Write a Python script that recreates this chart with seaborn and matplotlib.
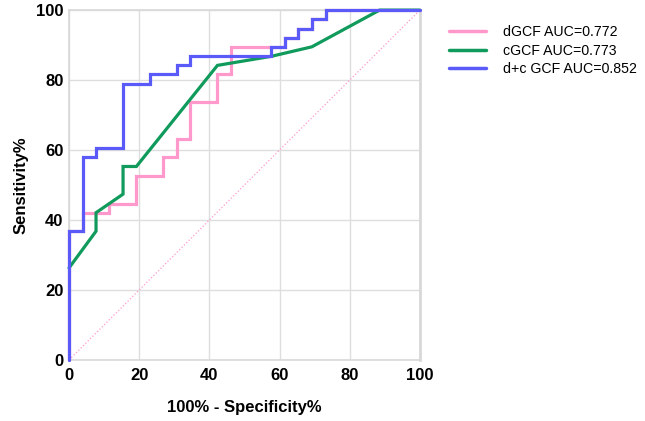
import numpy as np
import pandas as pd
import matplotlib
matplotlib.use('Agg')
import matplotlib.pyplot as plt
import seaborn as sns

# ROC points (100% - specificity, sensitivity)
d_fpr = [0, 0, 3.85, 3.85, 11.5, 11.5, 19.2, 19.2, 26.9, 26.9, 30.8, 30.8, 34.6, 34.6,
         42.3, 42.3, 46.2, 46.2, 57.7, 61.5, 61.5, 65.4, 65.4, 69.2, 69.2, 73.1, 73.1, 100]
d_tpr = [0, 36.8, 36.8, 42.1, 42.1, 44.7, 44.7, 52.6, 52.6, 57.9, 57.9, 63.2, 63.2, 73.7,
         73.7, 81.6, 81.6, 89.5, 89.5, 89.5, 92.1, 92.1, 94.7, 94.7, 97.4, 97.4, 100, 100]

c_fpr = [0, 7.7, 7.7, 15.4, 15.4, 19.2, 42.3, 57.7, 69.2, 88.5, 100]
c_tpr = [26.3, 36.8, 42.1, 47.4, 55.3, 55.3, 84.2, 86.8, 89.5, 100, 100]

dc_fpr = [0, 0, 3.85, 3.85, 7.7, 7.7, 15.4, 15.4, 23.1, 23.1, 30.8, 30.8, 34.6, 34.6,
          57.7, 57.7, 61.5, 61.5, 65.4, 65.4, 69.2, 69.2, 73.1, 73.1, 100]
dc_tpr = [0, 36.8, 36.8, 57.9, 57.9, 60.5, 60.5, 78.9, 78.9, 81.6, 81.6, 84.2, 84.2, 86.8,
          86.8, 89.5, 89.5, 92.1, 92.1, 94.7, 94.7, 97.4, 97.4, 100, 100]

labels = ['dGCF AUC=0.772', 'cGCF AUC=0.773', 'd+c GCF AUC=0.852']
colors = ['#ff99cc', '#109a5c', '#5a5af8']
ticks = [0, 20, 40, 60, 80, 100]

sns.set_style('white')
plt.rcParams['font.family'] = ['Liberation Sans', 'DejaVu Sans']
plt.rcParams['text.color'] = 'black'
plt.rcParams['axes.labelcolor'] = 'black'
plt.rcParams['xtick.color'] = 'black'
plt.rcParams['ytick.color'] = 'black'

fig = plt.figure(figsize=(6.45, 4.21), dpi=100)
ax = fig.add_axes([0.107, 0.145, 0.544, 0.831])

# chance line
sns.lineplot(x=[0, 100], y=[0, 100], ax=ax, color='#ff99cc', linestyle=':', linewidth=0.9)

curves = [(d_fpr, d_tpr), (c_fpr, c_tpr), (dc_fpr, dc_tpr)]
for (fx, fy), lab, col in zip(curves, labels, colors):
    sns.lineplot(x=fx, y=fy, ax=ax, sort=False, estimator=None, color=col,
                 linewidth=2.3, label=lab, solid_joinstyle='miter', clip_on=False, zorder=3)

ax.set_xlim(0, 100)
ax.set_ylim(0, 100)
ax.set_xticks(ticks)
ax.set_yticks(ticks)
ax.grid(True, color='#dedede', linewidth=1)
ax.set_axisbelow(True)
for s in ax.spines.values():
    s.set_color('#d8d8d8')
    s.set_linewidth(1.2)
ax.spines['right'].set_linewidth(2)
ax.tick_params(axis='y', direction='in', length=4, color='#c8c8c8', labelcolor='black', pad=4)
ax.tick_params(axis='x', length=0, pad=6, labelcolor='black')
for t in ax.get_xticklabels() + ax.get_yticklabels():
    t.set_fontweight('bold')
    t.set_fontsize(12)

ax.set_xlabel('100% - Specificity%', fontsize=12, fontweight='bold', labelpad=12)
ax.set_ylabel('Sensitivity%', fontsize=12, fontweight='bold', labelpad=5)

leg = ax.legend(loc='upper left', bbox_to_anchor=(0.696, 0.94), bbox_transform=fig.transFigure,
                frameon=False, fontsize=10.2, handlelength=2.6, handletextpad=1.2,
                labelspacing=0.3, borderpad=0, borderaxespad=0)
for line in leg.get_lines():
    line.set_linewidth(2.5)

fig.savefig('out.png', dpi=100)
